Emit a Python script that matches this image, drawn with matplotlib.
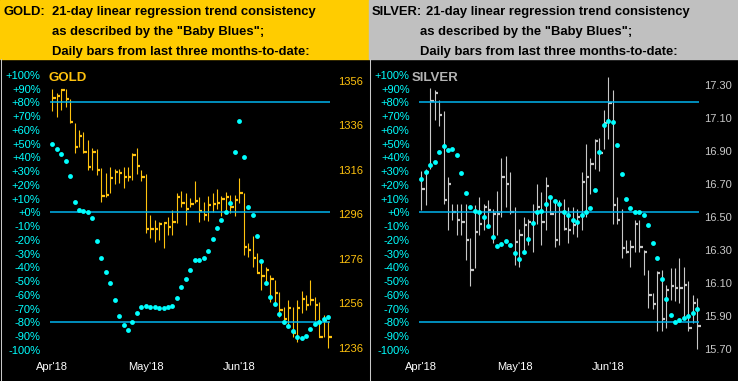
"""Gold / silver daily bars with 21-day regression trend consistency ("Baby Blues")."""

import matplotlib
import numpy as np

matplotlib.use("Agg")
import matplotlib.pyplot as plt
from matplotlib.lines import Line2D
from matplotlib.patches import Rectangle

W, H, DPI = 738, 381, 100

months = ["Apr'18", "May'18", "Jun'18"]
month_idx = [0, 21, 42]
pct_ticks = list(range(-100, 101, 10))
pct_labels = [f"{v:+d}%" for v in pct_ticks]
pct_levels = [80, 0, -80]

gold_price_ticks = [1236, 1256, 1276, 1296, 1316, 1336, 1356]
silver_price_ticks = [15.70, 15.90, 16.10, 16.30, 16.50, 16.70, 16.90, 17.10, 17.30]

gold_high = [1352.4, 1350.5, 1352.3, 1352.3, 1348.0, 1337.0, 1334.0, 1333.0, 1329.5, 1325.7,
             1325.3, 1316.8, 1314.5, 1317.5, 1316.5, 1316.5, 1317.5, 1317.5, 1323.5, 1325.7,
             1316.0, 1314.2, 1295.8, 1293.5, 1292.8, 1292.2, 1295.0, 1298.0, 1305.8, 1306.7,
             1305.8, 1303.3, 1311.2, 1304.0, 1301.8, 1304.2, 1305.5, 1307.3, 1304.2, 1306.2,
             1304.8, 1304.8, 1312.3, 1305.8, 1283.0, 1286.3, 1278.5, 1274.0, 1272.5, 1268.8,
             1266.6, 1261.3, 1254.6, 1257.6, 1254.6, 1257.6, 1261.6, 1259.8, 1266.6, 1259.0,
             1256.8, 1251.0, 1248.0]
gold_low = [1342.7, 1340.0, 1343.0, 1344.5, 1337.0, 1323.5, 1326.5, 1323.5, 1316.0, 1316.0,
            1313.8, 1301.8, 1304.0, 1305.5, 1309.5, 1310.0, 1307.7, 1311.0, 1311.5, 1314.0,
            1311.0, 1287.8, 1285.3, 1283.8, 1284.5, 1281.0, 1286.8, 1286.8, 1292.0, 1299.5,
            1291.3, 1299.2, 1301.0, 1292.8, 1293.5, 1293.2, 1297.3, 1298.3, 1295.3, 1298.0,
            1296.6, 1295.2, 1301.0, 1277.8, 1277.0, 1272.5, 1269.6, 1262.0, 1265.8, 1256.8,
            1256.1, 1250.0, 1247.0, 1245.6, 1241.0, 1238.8, 1251.6, 1253.0, 1255.3, 1248.6,
            1241.0, 1241.0, 1236.0]
gold_close = [1348.2, 1349.0, 1352.0, 1347.8, 1337.5, 1326.5, 1331.3, 1324.2, 1317.5, 1324.2,
              1316.0, 1304.3, 1304.9, 1312.3, 1315.0, 1314.5, 1312.8, 1312.8, 1322.8, 1317.8,
              1313.0, 1289.6, 1289.6, 1289.6, 1291.6, 1292.2, 1290.2, 1292.8, 1303.7, 1301.0,
              1298.3, 1300.7, 1302.2, 1297.7, 1295.8, 1300.3, 1300.8, 1301.0, 1303.0, 1303.7,
              1299.2, 1302.5, 1305.8, 1281.5, 1280.0, 1276.6, 1269.6, 1268.4, 1271.0, 1266.9,
              1260.6, 1253.0, 1249.0, 1253.8, 1242.6, 1253.8, 1258.0, 1255.3, 1257.6, 1255.3,
              1241.0, 1248.0, 1241.0]
gold_pct = [49.9, 46.3, 42.6, 37.5, 26.6, 7.7, 1.7, 1.2, 0.5, -3.9,
            -20.6, -33.0, -43.2, -51.7, -63.5, -75.2, -81.7, -85.4, -80.0, -73.0,
            -68.6, -67.9, -68.8, -69.0, -69.6, -69.6, -68.8, -68.0, -62.3, -54.1,
            -48.5, -41.7, -34.5, -34.5, -33.0, -28.1, -19.4, -11.2, -5.6, 0.2,
            7.0, 44.1, 66.4, 40.4, 4.1, -1.7, -17.0, -35.2, -51.7, -61.4,
            -66.7, -74.0, -79.5, -82.7, -86.1, -90.4, -91.2, -89.7, -85.1, -81.5,
            -79.5, -77.4, -75.9]

silver_high = [16.78, 16.79, 17.28, 17.27, 17.21, 17.14, 16.74, 16.58, 16.58, 16.58,
               16.58, 16.37, 16.57, 16.62, 16.58, 16.60, 16.55, 16.66, 16.86, 16.87,
               16.77, 16.56, 16.43, 16.50, 16.49, 16.58, 16.70, 16.65, 16.74, 16.62,
               16.60, 16.60, 16.61, 16.56, 16.56, 16.55, 16.77, 16.94, 16.86, 16.97,
               16.98, 17.15, 17.35, 17.27, 16.62, 16.55, 16.36, 16.36, 16.48, 16.48,
               16.30, 16.18, 16.04, 16.17, 16.18, 16.09, 16.19, 16.19, 16.25, 16.20,
               16.11, 16.03, 16.01]
silver_low = [16.54, 16.57, 16.79, 17.09, 17.05, 16.58, 16.42, 16.48, 16.39, 16.39,
              16.24, 16.08, 16.19, 16.39, 16.42, 16.45, 16.34, 16.39, 16.50, 16.56,
              16.52, 16.21, 16.20, 16.29, 16.33, 16.29, 16.46, 16.33, 16.42, 16.52,
              16.32, 16.33, 16.42, 16.34, 16.40, 16.38, 16.42, 16.50, 16.64, 16.79,
              16.78, 16.91, 16.97, 16.46, 16.46, 16.25, 16.28, 16.20, 16.29, 16.29,
              16.15, 15.95, 15.94, 15.81, 15.81, 15.83, 16.00, 15.99, 15.98, 15.88,
              15.81, 15.86, 15.70]
silver_close = [16.67, 16.77, 17.20, 17.25, 17.12, 16.60, 16.70, 16.53, 16.48, 16.47,
                16.36, 16.18, 16.41, 16.46, 16.56, 16.54, 16.52, 16.52, 16.74, 16.70,
                16.53, 16.35, 16.39, 16.45, 16.47, 16.53, 16.56, 16.47, 16.69, 16.52,
                16.36, 16.53, 16.43, 16.42, 16.45, 16.50, 16.71, 16.74, 16.82, 16.96,
                16.89, 17.07, 17.19, 16.57, 16.48, 16.31, 16.29, 16.32, 16.46, 16.32,
                16.29, 16.03, 15.97, 16.16, 15.88, 16.06, 16.08, 16.07, 16.07, 16.09,
                15.83, 15.98, 15.84]
silver_pct = [24.4, 29.5, 34.4, 36.8, 44.1, 48.2, 45.3, 46.0, 41.7, 28.8,
              14.3, 4.1, 1.2, 0.0, -3.2, -9.7, -17.7, -24.5, -23.1, -20.9,
              -23.8, -29.4, -34.2, -28.6, -19.4, -7.5, 0.4, 0.9, 6.0, 11.3,
              8.4, 5.8, 0.4, -1.7, -5.6, -6.8, -1.6, 0.3, 3.4, 16.2,
              44.1, 63.5, 66.4, 65.9, 49.0, 27.9, 9.7, 3.4, 0.4, 0.4,
              -2.0, -9.2, -22.6, -33.0, -48.7, -63.0, -74.7, -79.5, -78.3, -76.6,
              -75.2, -73.0, -70.3]

plt.rcParams["font.family"] = ["Liberation Sans", "DejaVu Sans"]

HEADER_H = 59
BAR_STEP = 4.45   # px per trading day
AX_TOP, AX_BOT = 62, 356
LINE_BLUE = "#00B4EE"
DOT_CYAN = "#00FFFF"


def fx(px):
    return px / W


def fy(py):
    return 1 - py / H


def draw_panel(fig, off, cfg):
    """One black chart panel: percent axis on the left, price on the right."""
    left, right = off + 44, off + 334
    ax_p = fig.add_axes([fx(left), fy(AX_BOT), fx(right - left), (AX_BOT - AX_TOP) / H])
    ax = ax_p.twinx()
    ax.set_zorder(ax_p.get_zorder() + 1)
    ax.patch.set_visible(False)
    ax_p.set_facecolor("black")

    first_bar = 8.3  # px from axes left to bar 0
    xlim = (-first_bar / BAR_STEP, (right - left - first_bar) / BAR_STEP)

    n = len(cfg["close"])
    x = np.arange(n)

    # high/low bars with a close tick on the price axis
    ax_p.vlines(x, cfg["low"], cfg["high"], color=cfg["color"], lw=0.8)
    ax_p.hlines(cfg["close"], x, x + 0.75, color=cfg["color"], lw=1.6)
    ax_p.set_ylim(*cfg["price_lim"])
    ax_p.set_yticks(cfg["price_ticks"])
    ax_p.set_yticklabels([cfg["price_fmt"].format(v) for v in cfg["price_ticks"]])
    ax_p.yaxis.tick_right()
    ax_p.tick_params(axis="y", length=0, pad=cfg["price_pad"], labelsize=8,
                     labelcolor=cfg["price_color"])

    # trend-consistency dots and reference levels on the percent axis
    ax.hlines(pct_levels, -0.5, n - 0.5, color=LINE_BLUE, lw=1.1)
    ax.plot(x, cfg["pct"], "o", color=DOT_CYAN, ms=3.5, mew=0)
    ax.set_ylim(-104.5, 109.3)
    ax.yaxis.tick_left()
    ax.set_yticks(pct_ticks)
    ax.set_yticklabels(pct_labels)
    ax.tick_params(axis="y", length=0, pad=2.4, labelsize=8, labelcolor=DOT_CYAN)

    for a in (ax, ax_p):
        a.set_xlim(*xlim)
        for s in a.spines.values():
            s.set_visible(False)
    ax.set_xticks([])
    ax_p.set_xticks(month_idx)
    ax_p.set_xticklabels(months)
    ax_p.tick_params(axis="x", length=0, pad=4.2, labelsize=8, labelcolor="white")

    fig.text(fx(off + cfg["name_x"]), fy(80.7), cfg["name"], color=cfg["name_color"],
             fontsize=9.5, fontweight="bold", va="baseline")


def draw_header(fig, x0, x1, color, tag, tag_x, first_x, rest_x):
    fig.patches.append(Rectangle((fx(x0), fy(HEADER_H)), fx(x1 - x0), HEADER_H / H,
                                 transform=fig.transFigure, color=color, zorder=0))
    kw = dict(fontsize=9.4, fontweight="bold", color="black", va="baseline")
    fig.text(fx(tag_x), fy(15), tag, **kw)
    fig.text(fx(first_x), fy(15), "21-day linear regression trend consistency", **kw)
    fig.text(fx(rest_x), fy(35.5), 'as described by the "Baby Blues";', **kw)
    fig.text(fx(rest_x), fy(55), "Daily bars from last three months-to-date:", **kw)


fig = plt.figure(figsize=(W / DPI, H / DPI), dpi=DPI, facecolor="black")

draw_header(fig, 0, 369, "#FFCC00", "GOLD:", 4, 51.7, 51.7)
draw_header(fig, 369, W, "#C0C0C0", "SILVER:", 371.3, 426.3, 420.3)

draw_panel(fig, 0, dict(
    high=gold_high, low=gold_low, close=gold_close, pct=gold_pct,
    color="#FFC20E", price_ticks=gold_price_ticks, price_fmt="{:.0f}",
    price_lim=(1232.4, 1364.5), price_pad=3.1, price_color="#FFC20E",
    name="GOLD", name_x=48.3, name_color="#FFC20E",
))
draw_panel(fig, 369, dict(
    high=silver_high, low=silver_low, close=silver_close, pct=silver_pct,
    color="#C8C8C8", price_ticks=silver_price_ticks, price_fmt="{:.2f}",
    price_lim=(15.658, 17.439), price_pad=1.0, price_color="#C8C8C8",
    name="SILVER", name_x=42.3, name_color="#B4B4B4",
))

# thin light frame lines between / around the panels
for xp in (0.5, 369.5, W - 0.5):
    fig.add_artist(Line2D([fx(xp), fx(xp)], [0, fy(HEADER_H)], color="#C8C8C8", lw=0.75))

fig.savefig("out.png", dpi=DPI, facecolor="black")
